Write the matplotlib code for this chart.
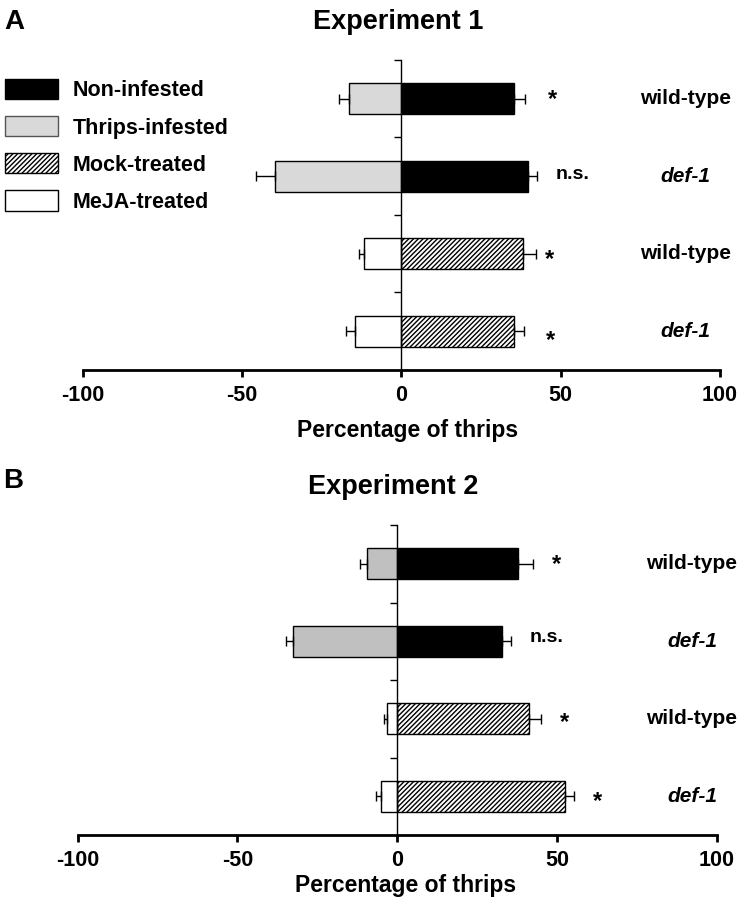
import numpy as np
import matplotlib
matplotlib.use('Agg')
import matplotlib.pyplot as plt
from matplotlib.patches import Patch

plt.rcParams['font.family'] = ['Liberation Sans', 'DejaVu Sans']
plt.rcParams['font.weight'] = 'bold'
plt.rcParams['axes.unicode_minus'] = False
plt.rcParams['hatch.linewidth'] = 1.0

# data (percentage of thrips choosing each side)
genotypes = ['wild-type', 'def-1', 'wild-type', 'def-1']
legend_labels = ['Non-infested', 'Thrips-infested', 'Mock-treated', 'MeJA-treated']

exp1_right = [35.2, 39.6, 38.3, 35.5]
exp1_right_err = [3.6, 2.9, 3.9, 3.1]
exp1_left = [-16.4, -39.8, -11.7, -14.5]
exp1_left_err = [3.1, 5.7, 1.6, 2.9]
exp1_sig = ['*', 'n.s.', '*', '*']

exp2_right = [37.8, 32.7, 41.1, 52.5]
exp2_right_err = [4.8, 2.9, 3.8, 2.9]
exp2_left = [-9.5, -32.6, -3.3, -5.2]
exp2_left_err = [2.0, 2.3, 1.0, 1.3]
exp2_sig = ['*', 'n.s.', '*', '*']

xticks = [-100, -50, 0, 50, 100]

# where the significance marks and row labels sit
sig1_x = [47.3, 53.8, 46.6, 46.9]
sig1_dy = [0.013, -0.02, 0.078, 0.117]
sig2_x = [49.8, 46.6, 52.3, 62.7]
sig2_dy = [0.013, -0.05, 0.052, 0.065]
row1_x = 89.3
row2_x = 92.2

fig = plt.figure(figsize=(7.41, 9.13), dpi=100)
W, H = 741., 913.
ax1 = fig.add_axes([82.7/W, 1-370/H, (720-82.7)/W, (370-60)/H])
ax2 = fig.add_axes([77.5/W, 1-835/H, (717-77.5)/W, (835-525)/H])


def panel(ax, right, rerr, left, lerr, gray, sig, sig_x, sig_dy, row_x):
    y = np.arange(len(right))
    rc = ['black', 'black', 'white', 'white']
    hatches = [None, None, '///////', '///////']
    lc = [gray, gray, 'white', 'white']
    for i in range(len(y)):
        ax.barh(y[i], right[i], height=0.4, color=rc[i], edgecolor='black',
                linewidth=1, hatch=hatches[i])
        ax.barh(y[i], left[i], height=0.4, color=lc[i], edgecolor='black',
                linewidth=1)
    ax.errorbar(right, y, xerr=[[0]*4, rerr], fmt='none', ecolor='black',
                elinewidth=1, capsize=3.5, capthick=1)
    ax.errorbar(left, y, xerr=[lerr, [0]*4], fmt='none', ecolor='black',
                elinewidth=1, capsize=3.5, capthick=1)
    for i in range(len(y)):
        ax.text(sig_x[i], y[i] + sig_dy[i], sig[i], ha='center', va='center',
                fontsize=17 if sig[i] == '*' else 14)
        st = 'italic' if genotypes[i] == 'def-1' else 'normal'
        ax.text(row_x, y[i], genotypes[i], ha='center', va='center',
                fontsize=15, style=st, clip_on=False)
    ax.set_xlim(-100, 100)
    ax.set_ylim(3.5, -0.5)
    ax.spines['top'].set_visible(False)
    ax.spines['right'].set_visible(False)
    ax.spines['left'].set_position(('data', 0))
    ax.spines['left'].set_linewidth(1)
    ax.spines['bottom'].set_linewidth(2)
    ax.set_yticks([-0.5, 0.5, 1.5, 2.5])
    ax.set_yticklabels([])
    ax.tick_params(axis='y', direction='out', length=5, width=1)
    ax.set_xticks(xticks)
    ax.set_xticklabels([str(t) for t in xticks])
    ax.tick_params(axis='x', direction='out', length=5, width=2, pad=6,
                   labelsize=15.5)
    ax.set_facecolor('none')


panel(ax1, exp1_right, exp1_right_err, exp1_left, exp1_left_err, '#d9d9d9',
      exp1_sig, sig1_x, sig1_dy, row1_x)
panel(ax2, exp2_right, exp2_right_err, exp2_left, exp2_left_err, '#c0c0c0',
      exp2_sig, sig2_x, sig2_dy, row2_x)

fig.text(408/W, 1-437/H, 'Percentage of thrips', ha='center', va='baseline',
         fontsize=16.5)
fig.text(406/W, 1-892/H, 'Percentage of thrips', ha='center', va='baseline',
         fontsize=16.5)
fig.text(398/W, 1-29.3/H, 'Experiment 1', ha='center', va='baseline',
         fontsize=19.5)
fig.text(393/W, 1-494/H, 'Experiment 2', ha='center', va='baseline',
         fontsize=19.5)
fig.text(4/W, 1-29/H, 'A', ha='left', va='baseline', fontsize=20)
fig.text(3/W, 1-488/H, 'B', ha='left', va='baseline', fontsize=20)

handles = [Patch(facecolor='black', edgecolor='black'),
           Patch(facecolor='#d9d9d9', edgecolor='#555555'),
           Patch(facecolor='white', edgecolor='black', hatch='///////'),
           Patch(facecolor='white', edgecolor='black')]
fig.legend(handles, legend_labels, loc='upper left',
           bbox_to_anchor=(5/W, 1-79/H), frameon=False, fontsize=15.5,
           handlelength=2.45, handleheight=1.07, handletextpad=0.7,
           labelspacing=0.68, borderpad=0, borderaxespad=0)

fig.savefig('out.png', dpi=100)
